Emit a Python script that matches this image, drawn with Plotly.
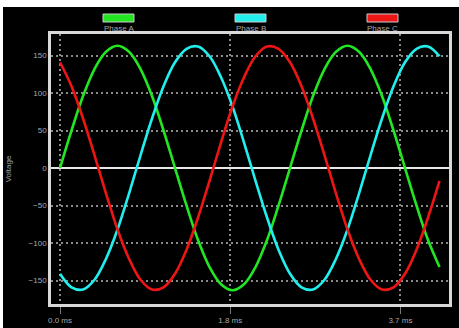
import plotly.graph_objects as go

# time axis (ms), sampled every 0.125 ms
time_ms = [i * 0.125 for i in range(34)]

phase_a = [0, 50, 96, 132, 155, 163, 155, 132, 96, 50, 0, -50, -96, -132, -155, -163, -155,
           -132, -96, -50, 0, 50, 96, 132, 155, 163, 155, 132, 96, 50, 0, -50, -96, -132]
phase_b = [-141, -159, -162, -149, -121, -82, -34, 17, 66, 109, 141, 159, 162, 149, 121, 82, 34,
           -17, -66, -109, -141, -159, -162, -149, -121, -82, -34, 17, 66, 109, 141, 159, 162, 149]
phase_c = [141, 109, 66, 17, -34, -82, -121, -149, -162, -159, -141, -109, -66, -17, 34, 82, 121,
           149, 162, 159, 141, 109, 66, 17, -34, -82, -121, -149, -162, -159, -141, -109, -66, -17]

series_names = ["Phase A", "Phase B", "Phase C"]
series_colors = ["#22e622", "#22eeee", "#ee1515"]

x_tickvals = [0, 1.85, 3.7]
x_ticktext = ["0.0 ms", "1.8 ms", "3.7 ms"]
y_tickvals = [-150, -100, -50, 0, 50, 100, 150]

W, H = 459, 328
ML, MR, MT, MB = 51, 10, 34, 24
PW, PH = W - ML - MR, H - MT - MB


def px(xp):
    return (xp - ML) / PW


def py(yp):
    return (H - MB - yp) / PH


fig = go.Figure()
for name, vals, col in zip(series_names, [phase_a, phase_b, phase_c], series_colors):
    fig.add_trace(go.Scatter(x=time_ms, y=vals, mode="lines", name=name,
                             line=dict(color=col, width=2.6, shape="spline"),
                             showlegend=False, hoverinfo="skip"))

grey = "#a8a8a8"
fig.update_layout(
    width=W, height=H,
    margin=dict(l=ML, r=MR, t=MT, b=MB, autoexpand=False),
    paper_bgcolor="black", plot_bgcolor="black",
    font=dict(family="Liberation Sans, Arial, sans-serif", size=8, color=grey),
    xaxis=dict(range=[-0.098, 4.228], tickvals=x_tickvals, ticktext=x_ticktext,
               showgrid=True, gridcolor="#8a8a8a", griddash="2px,3px", gridwidth=1.5,
               zeroline=False, showline=True, linecolor="#d8d8d8", linewidth=2.5, mirror=True,
               ticks="outside", ticklen=7, tickcolor="#777777",
               tickfont=dict(size=8, color=grey)),
    yaxis=dict(range=[-181.3, 178.7], tickvals=y_tickvals,
               showgrid=True, gridcolor="#8a8a8a", griddash="2px,3px", gridwidth=1.5,
               zeroline=True, zerolinecolor="#e8e8e8", zerolinewidth=1.5,
               showline=True, linecolor="#d8d8d8", linewidth=2.5, mirror=True,
               ticks="", tickfont=dict(size=8, color=grey),
               title=dict(text="Voltage", font=dict(size=8, color=grey), standoff=16)),
)

shapes = []
annotations = []
# white strips at top and left of the image
shapes.append(dict(type="rect", xref="paper", yref="paper", x0=px(0), x1=px(W), y0=py(7), y1=py(0),
                   fillcolor="white", line=dict(width=0), layer="above"))
shapes.append(dict(type="rect", xref="paper", yref="paper", x0=px(0), x1=px(3), y0=py(H), y1=py(0),
                   fillcolor="white", line=dict(width=0), layer="above"))

# manual legend: colored boxes with label below
legend_x = [103, 235, 367]
for name, col, lx in zip(series_names, series_colors, legend_x):
    shapes.append(dict(type="rect", xref="paper", yref="paper",
                       x0=px(lx), x1=px(lx + 31), y0=py(22), y1=py(14),
                       fillcolor=col, line=dict(color="#cccccc", width=1)))
    annotations.append(dict(text=name, xref="paper", yref="paper", x=px(lx + 15.5), y=py(28),
                            showarrow=False, xanchor="center", yanchor="middle",
                            font=dict(size=8, color=grey)))

fig.update_layout(shapes=shapes, annotations=annotations)
fig.write_html("out.html", config={"displayModeBar": False},
               post_script="document.body.style.margin='0';document.body.style.overflow='hidden';")
